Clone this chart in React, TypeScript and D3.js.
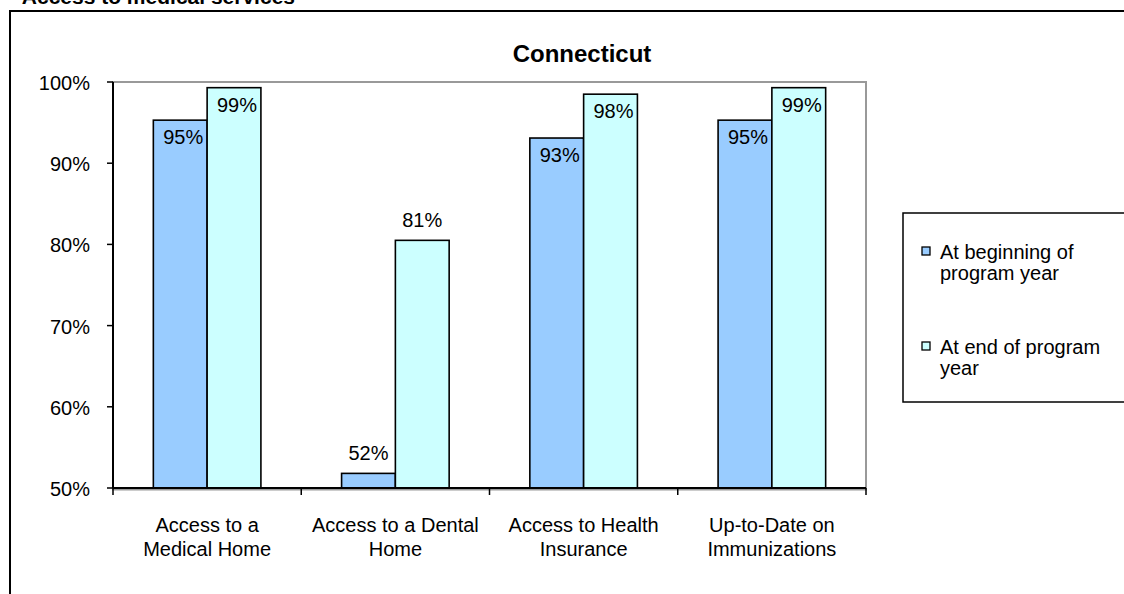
import React from "react";
import * as d3 from "d3";

const categories = [
  ["Access to a", "Medical Home"],
  ["Access to a Dental", "Home"],
  ["Access to Health", "Insurance"],
  ["Up-to-Date on", "Immunizations"],
];
const beginValues = [95.3, 51.8, 93.1, 95.3];
const endValues = [99.3, 80.5, 98.5, 99.3];
const beginLabels = ["95%", "52%", "93%", "95%"];
const endLabels = ["99%", "81%", "98%", "99%"];
const yTicks = [50, 60, 70, 80, 90, 100];
const seriesNames = [["At beginning of", "program year"], ["At end of program", "year"]];
const colors = ["#99CCFF", "#CCFFFF"];

const W = 1124, H = 594;
const plot = { left: 113, right: 866, top: 82, bottom: 488 };
const font = "'Liberation Sans', Arial, sans-serif";

export default function App() {
  const y = d3.scaleLinear().domain([50, 100]).range([plot.bottom, plot.top]);
  const x0 = d3.scaleBand().domain(categories.map((_, i) => String(i))).range([plot.left, plot.right]).paddingInner(0).paddingOuter(0);
  const bw = x0.bandwidth();
  const barW = bw / 3.5;
  const series = [beginValues, endValues];
  const labels = [beginLabels, endLabels];

  return (
    <svg width={W} height={H} style={{ position: "absolute", left: 0, top: 0, background: "#fff" }} fontFamily={font}>
      <rect x={0} y={0} width={W} height={H} fill="#fff" />
      <text x={295} y={4} textAnchor="end" fontSize={21} fontWeight="bold">Access to medical services</text>
      <rect x={10} y={11} width={W + 20} height={H + 20} fill="none" stroke="#000" strokeWidth={2} />
      <text x={582} y={62} textAnchor="middle" fontSize={24} fontWeight="bold">Connecticut</text>
      <rect x={plot.left} y={plot.top} width={plot.right - plot.left} height={plot.bottom - plot.top + 1.5} fill="none" stroke="#999" strokeWidth={2} />
      {series.map((vals, s) =>
        vals.map((v, i) => {
          const bx = (x0(String(i)) as number) + bw * 0.75 / 3.5 + s * barW;
          const top = y(v);
          const inside = v > 90;
          return (
            <g key={`${s}-${i}`}>
              <rect x={bx} y={top} width={barW} height={plot.bottom - top} fill={colors[s]} stroke="#000" strokeWidth={1.6} />
              <text x={bx + barW / 2 + (inside ? 3 : 0)} y={inside ? top + 24 : top - 13} textAnchor="middle" fontSize={20}>{labels[s][i]}</text>
            </g>
          );
        })
      )}
      <line x1={plot.left} x2={plot.left} y1={plot.top} y2={plot.bottom} stroke="#000" strokeWidth={2} />
      <line x1={plot.left} x2={plot.right} y1={plot.bottom} y2={plot.bottom} stroke="#000" strokeWidth={2} />
      {yTicks.map((t) => (
        <g key={t}>
          <line x1={plot.left - 6} x2={plot.left} y1={y(t)} y2={y(t)} stroke="#000" strokeWidth={1.5} />
          <text x={90} y={y(t) + 8} textAnchor="end" fontSize={20}>{t}%</text>
        </g>
      ))}
      {d3.range(categories.length + 1).map((i) => {
        const xx = plot.left + i * bw;
        return <line key={i} x1={xx} x2={xx} y1={plot.bottom} y2={plot.bottom + 7} stroke="#000" strokeWidth={1.5} />;
      })}
      {categories.map((c, i) => {
        const cx = (x0(String(i)) as number) + bw / 2;
        return (
          <text key={i} x={cx} textAnchor="middle" fontSize={20}>
            <tspan x={cx} y={532}>{c[0]}</tspan>
            <tspan x={cx} y={556}>{c[1]}</tspan>
          </text>
        );
      })}
      <rect x={903} y={213} width={240} height={189} fill="#fff" stroke="#000" strokeWidth={1.5} />
      {seriesNames.map((n, s) => {
        const sy = 247 + s * 95;
        return (
          <g key={s}>
            <rect x={922} y={sy} width={8} height={8} fill={colors[s]} stroke="#000" strokeWidth={1.3} />
            <text fontSize={20}>
              <tspan x={940} y={sy + 12}>{n[0]}</tspan>
              <tspan x={940} y={sy + 33}>{n[1]}</tspan>
            </text>
          </g>
        );
      })}
    </svg>
  );
}
